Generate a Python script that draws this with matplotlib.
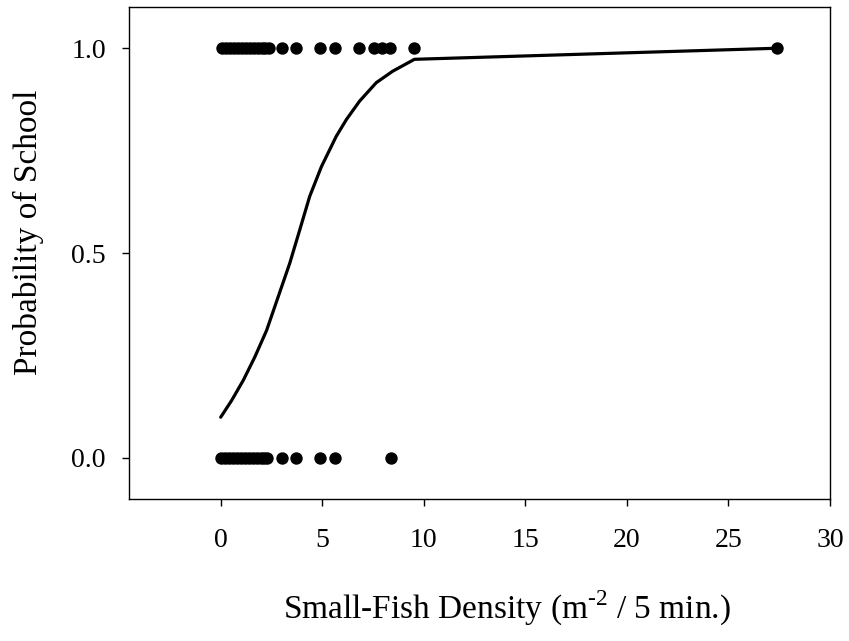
import matplotlib
matplotlib.use("Agg")
import matplotlib.pyplot as plt

# Observed schooling (1) points
school_x = [0.05, 0.25, 0.45, 0.65, 0.85, 1.05, 1.25, 1.45, 1.65, 1.85, 2.05, 2.2, 2.37,
            3.04, 3.73, 4.91, 5.61, 6.80, 7.57, 7.95, 8.35, 9.54, 27.37]
# Observed non-schooling (0) points
noschool_x = [0.0, 0.2, 0.4, 0.6, 0.8, 1.0, 1.2, 1.4, 1.6, 1.8, 2.0, 2.15, 2.27,
              3.04, 3.73, 4.91, 5.61, 8.39]

# Fitted probability curve
curve_x = [0, 0.54, 1.11, 1.68, 2.26, 2.83, 3.40, 3.89, 4.38, 4.96, 5.69, 6.19,
           6.84, 7.66, 8.47, 9.54, 27.37]
curve_y = [0.099, 0.140, 0.189, 0.246, 0.311, 0.393, 0.475, 0.556, 0.638, 0.711,
           0.785, 0.826, 0.871, 0.916, 0.944, 0.973, 1.0]

x_ticks = [0, 5, 10, 15, 20, 25, 30]
y_ticks = [0.0, 0.5, 1.0]
y_ticklabels = ["0.0", "0.5", "1.0"]

plt.rcParams['font.family'] = ['Liberation Serif', 'DejaVu Serif']
plt.rcParams['mathtext.fontset'] = 'custom'
plt.rcParams['mathtext.rm'] = 'Liberation Serif'

fig = plt.figure(figsize=(8.49, 6.41), dpi=100)
ax = fig.add_axes([0.1523, 0.222, 0.9776 - 0.1523, 0.9886 - 0.222])

ax.plot(curve_x, curve_y, color='black', linewidth=2.3, solid_capstyle='round', zorder=2)
ax.scatter(school_x, [1.0] * len(school_x), s=80, color='black', zorder=3, linewidths=0)
ax.scatter(noschool_x, [0.0] * len(noschool_x), s=80, color='black', zorder=3, linewidths=0)

ax.set_xlim(-4.5, 30)
ax.set_ylim(-0.1, 1.1)
ax.set_xticks(x_ticks)
ax.set_yticks(y_ticks)
ax.set_yticklabels(y_ticklabels)

for sp in ax.spines.values():
    sp.set_linewidth(1.0)
    sp.set_color('black')

ax.tick_params(axis='both', direction='out', length=4.8, width=1.0, labelsize=20, colors='black')
ax.tick_params(axis='x', pad=16)
ax.tick_params(axis='y', pad=12)
ax.tick_params(top=False, right=False)

ax.set_xlabel(r"Small-Fish Density (m$^{\text{-2}}$ / 5 min.)", fontsize=24, labelpad=26)
ax.set_ylabel("Probability of School", fontsize=24, labelpad=20)
ax.xaxis.label.set_x(0.539)
ax.yaxis.label.set_y(0.543)

fig.savefig("out.png", dpi=100)
